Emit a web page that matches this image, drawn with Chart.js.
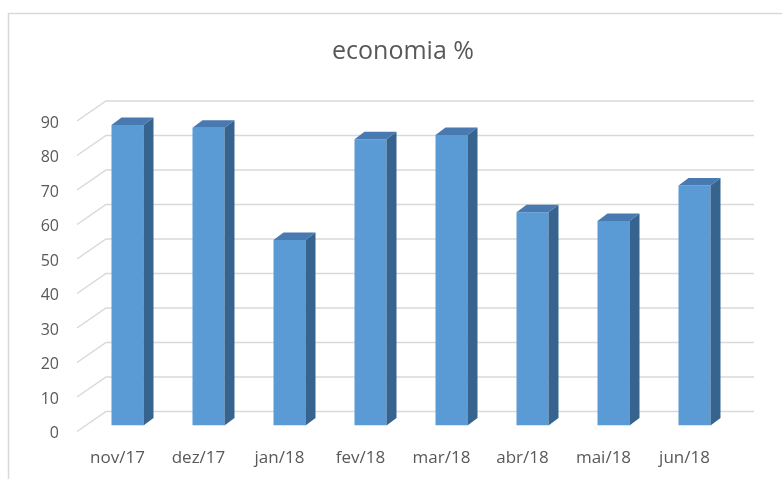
<!DOCTYPE html>
<html>
<head>
<meta charset="utf-8">
<script src="https://cdn.jsdelivr.net/npm/chart.js@4.4.1/dist/chart.umd.min.js"></script>
<style>
  html, body { margin: 0; padding: 0; background: #ffffff; }
  #wrap { width: 782px; height: 479px; }
</style>
</head>
<body>
<div id="wrap"><canvas id="c" width="782" height="479"></canvas></div>
<script>
const categories = ['nov/17', 'dez/17', 'jan/18', 'fev/18', 'mar/18', 'abr/18', 'mai/18', 'jun/18'];
const economia = [87.1, 86.3, 53.8, 83.0, 84.2, 61.8, 59.3, 69.6];
const chartTitle = 'economia %';
const yMin = 0, yMax = 90, yStep = 10;

// 3D look (styling only)
const FRONT = { dx: -10, dy: 6 };   // front edge of the floor/walls relative to bar plane
const BACK = { dx: 19, dy: -14 };   // back wall relative to bar plane
const DEPTH = { dx: 10, dy: -7.5 }; // bar depth
const COLORS = { front: '#5b9bd5', side: '#37638f', top: '#4879b0', grid: '#d9d9d9', text: '#595959' };

const framePlugin = {
  id: 'frame',
  beforeDraw(chart) {
    const ctx = chart.ctx;
    ctx.save();
    ctx.fillStyle = '#ffffff';
    ctx.fillRect(0, 0, chart.width, chart.height);
    ctx.strokeStyle = COLORS.grid;
    ctx.lineWidth = 1.5;
    ctx.strokeRect(8.5, 13.5, chart.width + 20, chart.height + 20);
    ctx.restore();
  }
};

const wallPlugin = {
  id: 'wall3d',
  beforeDatasetsDraw(chart) {
    const { ctx, chartArea: { left, right }, scales: { y } } = chart;
    ctx.save();
    ctx.strokeStyle = COLORS.grid;
    ctx.lineWidth = 1.5;
    y.ticks.forEach(t => {
      const py = y.getPixelForValue(t.value);
      ctx.beginPath();
      ctx.moveTo(left + FRONT.dx, py + FRONT.dy);
      ctx.lineTo(left + BACK.dx, py + BACK.dy);
      ctx.lineTo(right + BACK.dx, py + BACK.dy);
      ctx.stroke();
    });
    ctx.restore();
  },
  afterDatasetsDraw(chart) {
    const ctx = chart.ctx;
    const meta = chart.getDatasetMeta(0);
    ctx.save();
    meta.data.forEach(bar => {
      const { x, y, base, width } = bar.getProps(['x', 'y', 'base', 'width'], true);
      const l = x - width / 2, r = x + width / 2;
      // side face
      ctx.fillStyle = COLORS.side;
      ctx.beginPath();
      ctx.moveTo(r, y);
      ctx.lineTo(r + DEPTH.dx, y + DEPTH.dy);
      ctx.lineTo(r + DEPTH.dx, base + DEPTH.dy);
      ctx.lineTo(r, base);
      ctx.closePath();
      ctx.fill();
      // top face
      ctx.fillStyle = COLORS.top;
      ctx.beginPath();
      ctx.moveTo(l, y);
      ctx.lineTo(l + DEPTH.dx, y + DEPTH.dy);
      ctx.lineTo(r + DEPTH.dx, y + DEPTH.dy);
      ctx.lineTo(r, y);
      ctx.closePath();
      ctx.fill();
    });
    ctx.restore();
  }
};

Chart.defaults.font.family = "'Open Sans', sans-serif";
Chart.defaults.color = COLORS.text;

new Chart(document.getElementById('c'), {
  type: 'bar',
  data: {
    labels: categories,
    datasets: [{
      label: chartTitle,
      data: economia,
      backgroundColor: COLORS.front,
      borderWidth: 0,
      barPercentage: 0.395,
      categoryPercentage: 1.0
    }]
  },
  options: {
    responsive: false,
    devicePixelRatio: 1,
    animation: false,
    layout: { padding: { left: 24, right: 0, top: 0, bottom: 0 } },
    plugins: {
      legend: { display: false },
      tooltip: { enabled: false },
      title: {
        display: true,
        text: chartTitle,
        color: COLORS.text,
        font: { size: 25, weight: 'normal' },
        padding: { top: 37, bottom: 48 }
      }
    },
    scales: {
      x: {
        grid: { display: false, drawTicks: false },
        border: { display: false },
        ticks: { font: { size: 17 }, padding: 22, labelOffset: -10, maxRotation: 0, autoSkip: false },
        afterFit(s) { s.height = 53.5; }
      },
      y: {
        min: yMin,
        max: yMax,
        grid: { display: false, drawTicks: false },
        border: { display: false },
        ticks: { stepSize: yStep, font: { size: 16 }, padding: 28, labelOffset: 8 },
        afterFit(s) { s.width = 63; }
      },
      yr: {
        type: 'linear',
        position: 'right',
        display: true,
        grid: { display: false, drawTicks: false },
        border: { display: false },
        ticks: { display: false },
        afterFit(s) { s.width = 47; }
      }
    }
  },
  plugins: [framePlugin, wallPlugin]
});
</script>
</body>
</html>
